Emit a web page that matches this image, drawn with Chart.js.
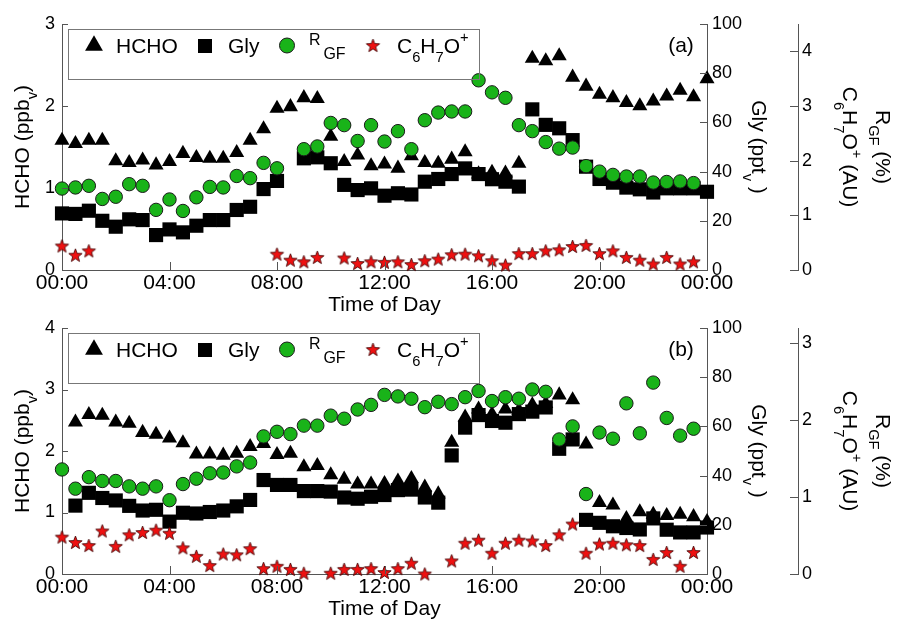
<!DOCTYPE html>
<html>
<head>
<meta charset="utf-8">
<script src="https://cdn.jsdelivr.net/npm/chart.js@4.4.1/dist/chart.umd.min.js"></script>
<style>
  body { margin: 0; background: #fff; }
  #wrap { position: relative; width: 897px; height: 623px; }
  #wrap canvas { position: absolute; left: 0; top: 0; }
</style>
</head>
<body>
<div id="wrap">
  <canvas id="chartA" width="897" height="623"></canvas>
  <canvas id="chartB" width="897" height="623"></canvas>
</div>
<script>
// Horas del dia, cada media hora
const horas = ['00:00','00:30','01:00','01:30','02:00','02:30','03:00','03:30','04:00','04:30',
  '05:00','05:30','06:00','06:30','07:00','07:30','08:00','08:30','09:00','09:30',
  '10:00','10:30','11:00','11:30','12:00','12:30','13:00','13:30','14:00','14:30',
  '15:00','15:30','16:00','16:30','17:00','17:30','18:00','18:30','19:00','19:30',
  '20:00','20:30','21:00','21:30','22:00','22:30','23:00','23:30','24:00'];
const etiquetasX = ['00:00', '04:00', '08:00', '12:00', '16:00', '20:00', '00:00'];

// Panel (a)
const hchoA = [1.58,1.54,1.58,1.58,1.33,1.31,1.34,1.28,1.32,1.42,1.37,1.36,1.36,1.43,1.58,1.72,1.97,1.99,2.10,2.09,
  1.63,1.32,1.40,1.27,1.29,1.24,1.39,1.31,1.30,1.35,1.44,1.17,1.19,1.18,1.30,2.58,2.55,2.61,2.35,2.24,
  2.14,2.10,2.04,2.00,2.06,2.12,2.19,2.11,2.33];
const glyA = [23.0,22.8,24.1,20.0,17.6,20.6,20.3,14.2,16.5,15.3,18.0,20.3,20.3,24.4,25.7,32.9,36.2,null,45.4,45.8,
  43.4,34.6,32.5,33.2,30.2,31.2,30.7,35.9,37.0,39.0,41.3,39.0,36.9,35.9,33.9,65.3,59.0,57.6,52.8,42.0,
  37.0,35.5,33.5,32.8,31.5,33.2,33.2,33.2,31.8];
const rgfA = [1.49,1.51,1.54,1.30,1.34,1.57,1.54,1.10,1.29,1.08,1.33,1.52,1.51,1.72,1.68,1.96,1.86,null,2.21,2.26,
  2.69,2.65,2.36,2.65,2.35,2.54,2.21,2.74,2.88,2.90,2.90,3.47,3.25,3.15,2.65,2.54,2.34,2.22,2.24,1.90,
  1.80,1.74,1.71,1.71,1.60,1.61,1.62,1.59,null];
const c6A = [0.44,0.27,0.35,null,null,null,null,null,null,null,null,null,null,null,null,null,0.29,0.18,0.15,0.23,
  null,0.22,0.12,0.15,0.14,0.15,0.10,0.17,0.20,0.28,0.29,0.26,0.17,0.09,0.30,0.30,0.35,0.37,0.43,0.45,
  0.30,0.35,0.23,0.18,0.11,0.23,0.11,0.15,null];

// Panel (b)
const hchoB = [null,2.47,2.59,2.58,2.47,2.45,2.30,2.27,2.21,2.13,1.95,1.95,1.93,1.96,2.07,2.12,1.94,1.96,1.74,1.76,
  1.61,1.54,1.46,1.46,1.47,1.51,1.55,1.41,1.30,2.14,2.55,2.68,2.60,2.68,2.66,2.75,2.77,2.91,2.83,2.11,
  1.16,1.12,0.90,1.01,0.97,0.95,0.97,0.93,0.85];
const glyB = [null,27.8,33.0,30.9,29.9,27.7,25.8,26.1,21.3,24.9,24.6,25.2,25.8,27.5,30.1,38.2,36.2,36.2,33.7,33.7,
  33.5,31.1,30.6,31.4,32.1,34.1,34.3,31.1,29.0,48.2,59.5,64.6,62.2,61.5,65.0,66.0,67.7,50.9,54.7,22.0,
  20.8,19.4,18.7,18.1,22.6,18.0,16.9,16.9,18.9];
const rgfB = [1.36,1.11,1.26,1.21,1.21,1.14,1.11,1.14,0.96,1.17,1.24,1.31,1.32,1.40,1.45,1.79,1.85,1.82,1.93,1.93,
  2.06,2.02,2.14,2.20,2.33,2.31,2.28,2.17,2.24,2.21,2.30,2.38,2.25,2.30,2.28,2.40,2.37,1.75,1.92,1.04,
  1.84,1.76,2.22,1.83,2.49,2.03,1.80,1.89,null];
const c6B = [0.48,0.41,0.37,0.56,0.36,0.51,0.54,0.57,0.53,0.34,0.23,0.11,0.26,0.25,0.33,0.07,0.10,0.06,0.01,null,
  0.01,0.06,0.06,0.07,0.02,0.07,0.14,0.00,null,0.17,0.40,0.44,0.27,0.40,0.44,0.43,0.37,0.51,0.65,0.27,
  0.39,0.40,0.38,0.37,0.19,0.28,0.10,0.28,null];

// Textos (partes: texto, escala de fuente, desplazamiento vertical)
const tituloHCHO = [['HCHO (ppb', 1, 0], ['v', 0.7, 0.4], [')', 1, 0]];
const tituloGly = [['Gly (ppt', 1, 0], ['v', 0.7, 0.4], [' )', 1, 0]];
const tituloR = [['R', 1, 0], ['GF', 0.7, 0.35], [' (%)', 1, 0]];
const tituloC6 = [['C', 1, 0], ['6', 0.7, 0.42], ['H', 1, 0], ['7', 0.7, 0.42], ['O', 1, 0], ['+', 0.7, -0.45], [' (AU)', 1, 0]];
const tituloX = 'Time of Day';

const FONT = '"Liberation Sans", Arial, Helvetica, sans-serif';
const AXIS = '#555';
const VERDE = '#19b319';
Chart.defaults.font.family = FONT;
Chart.defaults.color = '#000';

function starPath(g, x, y, r) {
  g.beginPath();
  for (let k = 0; k < 10; k++) {
    const rr = k % 2 === 0 ? r : r * 0.42;
    const ang = -Math.PI / 2 + k * Math.PI / 5;
    const px = x + rr * Math.cos(ang), py = y + rr * Math.sin(ang);
    if (k === 0) g.moveTo(px, py); else g.lineTo(px, py);
  }
  g.closePath();
}

// Estrella roja como imagen para pointStyle
function starCanvas(r) {
  const c = document.createElement('canvas');
  const s = Math.ceil(r * 2 + 3);
  c.width = s; c.height = s;
  const g = c.getContext('2d');
  starPath(g, s / 2, s / 2 + 0.5, r);
  g.fillStyle = '#ee1111'; g.fill();
  g.lineWidth = 0.8; g.strokeStyle = '#3a0000'; g.stroke();
  return c;
}
const estrella = starCanvas(7);

function drawRich(ctx, parts, x, y, size, align) {
  let total = 0;
  const ws = parts.map(p => {
    ctx.font = (size * p[1]) + 'px ' + FONT;
    const w = ctx.measureText(p[0]).width;
    total += w;
    return w;
  });
  let cx = align === 'center' ? x - total / 2 : x;
  ctx.textAlign = 'left';
  parts.forEach((p, k) => {
    ctx.font = (size * p[1]) + 'px ' + FONT;
    ctx.fillText(p[0], cx, y + p[2] * size);
    cx += ws[k];
  });
}

// Plugin para marcas de ejes, titulos y leyenda
const decor = {
  id: 'decor',
  afterDraw(chart, args, opts) {
    const ctx = chart.ctx, a = chart.chartArea, sc = chart.scales;
    ctx.save();
    ctx.strokeStyle = AXIS; ctx.lineWidth = 1;
    ctx.beginPath();
    sc.x.ticks.forEach((t, i) => {
      if (i % 8) return;
      const px = Math.round(sc.x.getPixelForTick(i)) + 0.5;
      ctx.moveTo(px, a.bottom); ctx.lineTo(px, a.bottom - 8);
    });
    sc.yL.ticks.forEach((t, i) => {
      const py = Math.round(sc.yL.getPixelForTick(i)) + 0.5;
      ctx.moveTo(a.left, py); ctx.lineTo(a.left + 6, py);
    });
    sc.yG.ticks.forEach((t, i) => {
      const py = Math.round(sc.yG.getPixelForTick(i)) + 0.5;
      ctx.moveTo(a.right - 7, py); ctx.lineTo(a.right, py);
    });
    sc.yR.ticks.forEach((t, i) => {
      const py = Math.round(sc.yR.getPixelForTick(i)) + 0.5;
      ctx.moveTo(sc.yR.left - 8, py); ctx.lineTo(sc.yR.left, py);
    });
    ctx.stroke();

    // titulos de los ejes
    const mid = (a.top + a.bottom) / 2;
    ctx.fillStyle = '#000';
    ctx.textBaseline = 'alphabetic';
    ctx.save(); ctx.translate(28.5, mid); ctx.rotate(-Math.PI / 2);
    drawRich(ctx, tituloHCHO, 0, 0, 21, 'center'); ctx.restore();
    ctx.save(); ctx.translate(751.5, mid); ctx.rotate(Math.PI / 2);
    drawRich(ctx, tituloGly, 0, 0, 21, 'center'); ctx.restore();
    ctx.save(); ctx.translate(876, mid); ctx.rotate(Math.PI / 2);
    drawRich(ctx, tituloR, 0, 0, 21, 'center'); ctx.restore();
    ctx.save(); ctx.translate(843, mid); ctx.rotate(Math.PI / 2);
    drawRich(ctx, tituloC6, 0, 0, 21, 'center'); ctx.restore();

    ctx.font = '21px ' + FONT;
    ctx.textAlign = 'center';
    ctx.fillText(tituloX, (a.left + a.right) / 2, a.bottom + 41);
    ctx.textBaseline = 'middle';
    ctx.fillText(opts.panel, 681, a.top + 22);

    // leyenda
    const t = a.top;
    ctx.strokeStyle = '#777';
    ctx.strokeRect(68.5, t + 5.5, 411, 50);
    const cy = t + 21.5;
    ctx.fillStyle = '#000';
    ctx.beginPath();
    const r = 10.3;
    ctx.moveTo(94, cy - r);
    ctx.lineTo(94 + r * 0.866, cy + r / 2);
    ctx.lineTo(94 - r * 0.866, cy + r / 2);
    ctx.closePath(); ctx.fill();
    ctx.fillRect(198, cy - 6.5, 14, 14);
    ctx.beginPath(); ctx.arc(287, cy, 7.5, 0, Math.PI * 2);
    ctx.fillStyle = VERDE; ctx.fill();
    ctx.strokeStyle = '#1a1a1a'; ctx.stroke();
    ctx.drawImage(estrella, 373 - estrella.width / 2, cy - estrella.height / 2);

    ctx.fillStyle = '#000';
    ctx.textBaseline = 'alphabetic';
    const base = t + 28.5;
    drawRich(ctx, [['HCHO', 1, 0]], 116, base, 21, 'left');
    drawRich(ctx, [['Gly', 1, 0]], 228, base, 21, 'left');
    drawRich(ctx, [['R', 0.76, -0.38], [' ', 0.5, 0], ['GF', 0.76, 0.29]], 309, base, 21, 'left');
    drawRich(ctx, [['C', 1, 0], ['6', 0.7, 0.45], ['H', 1, 0], ['7', 0.7, 0.45], ['O', 1, 0], ['+', 0.7, -0.5]], 397, base, 21, 'left');
    ctx.restore();
  }
};

function makeChart(id, hcho, gly, rgf, c6, hchoMax, rMax, padTop, padBottom, panel) {
  const comun = { showLine: false, clip: false, pointHoverRadius: 0 };
  return new Chart(document.getElementById(id), {
    type: 'line',
    data: {
      labels: horas,
      datasets: [
        { ...comun, label: 'HCHO', data: hcho, yAxisID: 'yL', order: 4,
          pointStyle: 'triangle', pointRadius: 8.7, pointBackgroundColor: '#000',
          pointBorderColor: '#000', pointBorderWidth: 0 },
        { ...comun, label: 'Gly', data: gly, yAxisID: 'yG', order: 3,
          pointStyle: 'rect', pointRadius: 10, pointBackgroundColor: '#000',
          pointBorderColor: '#000', pointBorderWidth: 0 },
        { ...comun, label: 'RGF', data: rgf, yAxisID: 'yR', order: 2,
          pointStyle: 'circle', pointRadius: 6.7, pointBackgroundColor: VERDE,
          pointBorderColor: '#1a1a1a', pointBorderWidth: 1 },
        { ...comun, label: 'C6H7O+', data: c6, yAxisID: 'yR', order: 1,
          pointStyle: estrella, pointRadius: 6 }
      ]
    },
    options: {
      responsive: false,
      animation: false,
      events: [],
      layout: { padding: { top: padTop, bottom: padBottom, left: 0, right: 0 } },
      plugins: { legend: { display: false }, tooltip: { enabled: false }, decor: { panel: panel } },
      scales: {
        x: {
          type: 'category', offset: false,
          grid: { display: false, drawTicks: false },
          border: { display: true, color: AXIS },
          ticks: { autoSkip: false, maxRotation: 0, minRotation: 0, padding: 1, font: { size: 21 },
            callback: (v, i) => i % 8 === 0 ? etiquetasX[i / 8] : '' },
          afterFit: s => { s.height = 40; }
        },
        yL: {
          position: 'left', min: 0, max: hchoMax, bounds: 'data',
          grid: { display: false, drawTicks: false },
          border: { display: true, color: AXIS },
          ticks: { stepSize: 1, includeBounds: false, padding: 7, font: { size: 18 } },
          afterFit: s => { s.width = 62; }
        },
        yG: {
          position: 'right', weight: 0, min: 0, max: 100, bounds: 'data',
          grid: { display: false, drawTicks: false },
          border: { display: true, color: AXIS },
          ticks: { stepSize: 20, includeBounds: false, padding: 5, font: { size: 18 } },
          afterFit: s => { s.width = 91; }
        },
        yR: {
          position: 'right', weight: 1, min: 0, max: rMax, bounds: 'data',
          grid: { display: false, drawTicks: false },
          border: { display: true, color: AXIS },
          ticks: { stepSize: 1, includeBounds: false, padding: 4, font: { size: 18 } },
          afterFit: s => { s.width = 99; }
        }
      }
    },
    plugins: [decor]
  });
}

makeChart('chartA', hchoA, glyA, rgfA, c6A, 3, 4.5, 24, 313, '(a)');
makeChart('chartB', hchoB, glyB, rgfB, c6B, 4, 3.2, 328, 9, '(b)');
</script>
</body>
</html>
